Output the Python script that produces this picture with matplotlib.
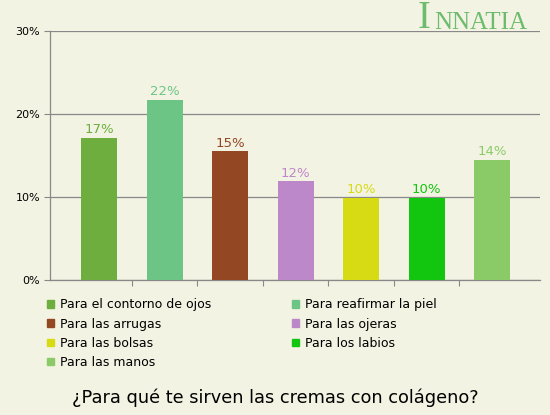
import matplotlib
matplotlib.use('Agg')
import matplotlib.pyplot as plt
from matplotlib.patches import Patch

categories = ['Para el contorno de ojos', 'Para reafirmar la piel', 'Para las arrugas',
              'Para las ojeras', 'Para las bolsas', 'Para los labios', 'Para las manos']
values = [17.1, 21.7, 15.5, 11.9, 9.9, 9.9, 14.5]
labels = ['17%', '22%', '15%', '12%', '10%', '10%', '14%']
colors = ['#6eae3e', '#6cc585', '#934722', '#bd88c9', '#d6db14', '#12c50f', '#8acb67']
yticks = [0, 10, 20, 30]

bg = '#f3f3e3'
W, H = 550, 415
fig = plt.figure(figsize=(5.5, 4.15), dpi=100, facecolor=bg)
ax = fig.add_axes([50 / W, (H - 280) / H, 490 / W, 249 / H], facecolor=bg)

x = list(range(len(values)))
ax.bar(x, values, width=0.55, color=colors, zorder=3)
for xi, v, lab, c in zip(x, values, labels, colors):
    ax.text(xi, v + 0.2, lab, color=c, ha='center', va='bottom', fontsize=9.5)

ax.set_xlim(-0.748, 6.73)
ax.set_ylim(0, 30)
ax.set_yticks(yticks)
ax.set_yticklabels([f'{t}%' for t in yticks], fontsize=8)
ax.yaxis.grid(True, color='#888888', lw=0.9, zorder=0)
ax.set_xticks([i + 0.5 for i in range(6)])
ax.set_xticklabels([])
ax.tick_params(axis='x', length=4, color='#888888', direction='out')
ax.tick_params(axis='y', length=4, color='#888888', pad=3)
for s in ['top', 'right']:
    ax.spines[s].set_visible(False)
for s in ['left', 'bottom']:
    ax.spines[s].set_color('#888888')
    ax.spines[s].set_linewidth(0.9)

# legend, row-major order in two columns
handles = [Patch(color=c, label=l) for c, l in zip(colors, categories)]
order = [0, 2, 4, 6, 1, 3, 5]
fig.legend([handles[i] for i in order], [categories[i] for i in order],
           ncol=2, loc='upper left', bbox_to_anchor=(36 / W, 1 - 287 / H),
           frameon=False, fontsize=9, handlelength=0.55, handleheight=0.55,
           handletextpad=0.45, columnspacing=6.5, labelspacing=0.5)

fig.text(0.5, 1 - 398 / H, '¿Para qué te sirven las cremas con colágeno?',
         ha='center', va='center', fontsize=12.8)

# logo
fig.text(418 / W, 1 - 19 / H, 'I', color='#4caf50', alpha=0.8, fontsize=28,
         family='Liberation Serif', ha='left', va='center')
fig.text(434 / W, 1 - 23 / H, 'NNATIA', color='#4caf50', alpha=0.8, fontsize=18,
         family='Liberation Serif', ha='left', va='center')

fig.savefig('out.png', dpi=100, facecolor=bg)
